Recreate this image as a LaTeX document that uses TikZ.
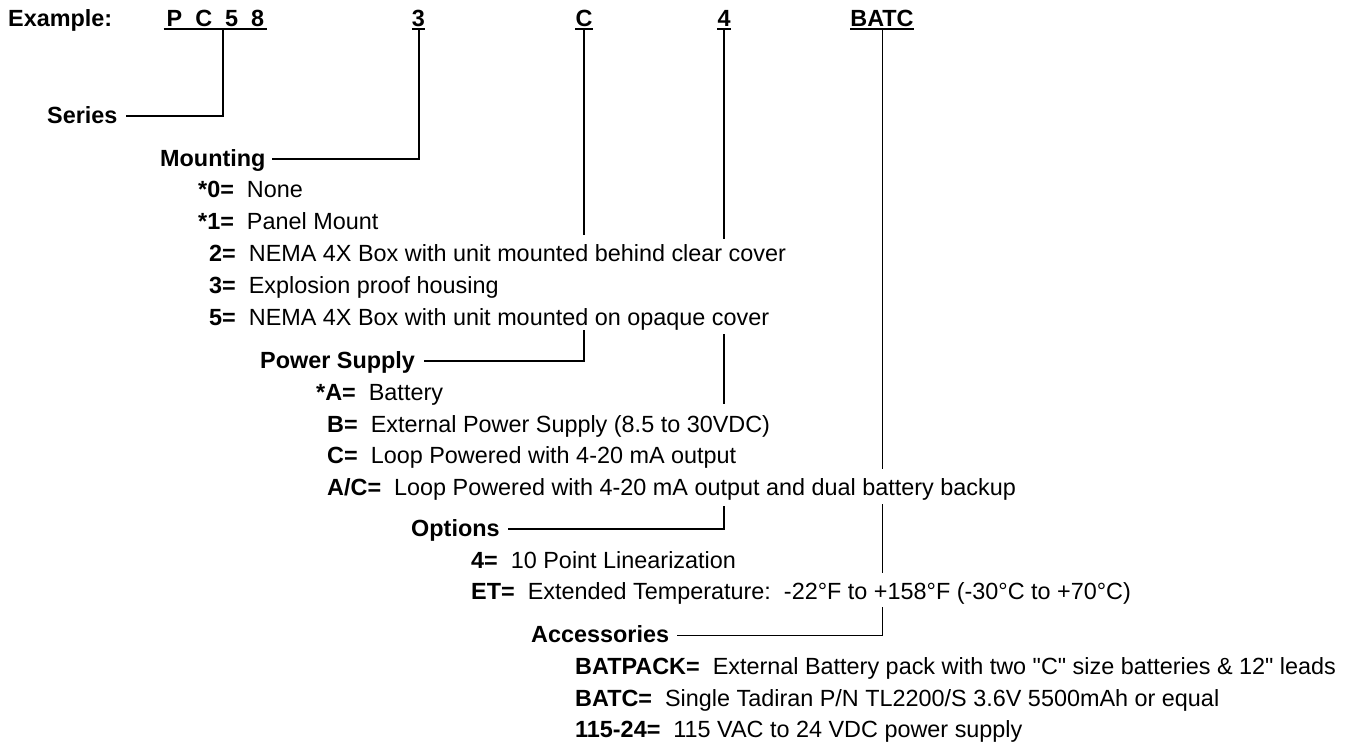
\documentclass[tikz,border=0pt]{standalone}
\usepackage{fontspec}
\setmainfont{Liberation Sans}[Ligatures=TeXOff]
\begin{document}
\tikzset{
  fs/.style={font=\fontsize{23.4}{28}\selectfont},
  txt/.style={fs, inner sep=0pt, anchor=base west},
  hdr/.style={inner sep=0pt, anchor=base west, font=\fontsize{23.4}{28}\selectfont\bfseries, text height=14pt, text depth=0pt},
  code/.style={inner sep=0pt, anchor=base, font=\fontsize{23.4}{28}\selectfont\bfseries},
  ln/.style={line width=2pt},
  lnmid/.style={line width=1.6pt},
  lnthin/.style={line width=1pt},
  ul/.style={line width=2pt},
}
\newcommand{\lab}[1]{\textbf{#1}\ \ }
\begin{tikzpicture}[x=1pt,y=-1pt]
\useasboundingbox (0,0) rectangle (1351,745);

% top row
\node[code, anchor=base west] (ex) at (8,26) {Example:};
\node[code, inner xsep=3pt] (pc) at (215.5,26) {P~~C~~5~~8};
\node[code] (d3) at (418.5,26) {3};
\node[code] (dC) at (584,26) {C};
\node[code] (d4) at (724,26) {4};
\node[code] (dB) at (882,26) {BATC};
\foreach \n in {pc,d3,dC,d4,dB}
  \draw[ul] ([yshift=-3.3pt]\n.base west) -- ([yshift=-3.3pt]\n.base east);

% headers
\node[hdr] (series) at (47,123) {Series};
\node[hdr] (mount) at (160,166) {Mounting};
\node[hdr] (ps) at (260,368) {Power Supply};
\node[hdr] (opt) at (411,536) {Options};
\node[hdr] (acc) at (531,642) {Accessories};

% mounting items
\node[txt] (m0) at (198,197) {\lab{*0=}None};
\node[txt] (m1) at (198,229) {\lab{*1=}Panel Mount};
\node[txt] (m2) at (209,261) {\lab{2=}NEMA 4X Box with unit mounted behind clear cover};
\node[txt] (m3) at (209,293) {\lab{3=}Explosion proof housing};
\node[txt] (m5) at (209,325) {\lab{5=}NEMA 4X Box with unit mounted on opaque cover};

% power supply items
\node[txt] (pA) at (316,400) {\lab{*A=}Battery};
\node[txt] (pB) at (327,432) {\lab{B=}External Power Supply (8.5 to 30VDC)};
\node[txt] (pC) at (327,463) {\lab{C=}Loop Powered with 4-20 mA output};
\node[txt] (pAC) at (327,495) {\lab{A/C=}Loop Powered with 4-20 mA output and dual battery backup};

% options items
\node[txt] (o4) at (471,568) {\lab{4=}10 Point Linearization};
\node[txt] (oET) at (471,599) {\lab{ET=}Extended Temperature:\ \ -22°F to +158°F (-30°C to +70°C)};

% accessories items
\node[txt] (a1) at (575,674) {\lab{BATPACK=}External Battery pack with two "C" size batteries \& 12" leads};
\node[txt] (a2) at (575,706) {\lab{BATC=}Single Tadiran P/N TL2200/S 3.6V 5500mAh or equal};
\node[txt] (a3) at (575,737) {\lab{115-24=}115 VAC to 24 VDC power supply};

% break points of the leader lines
\coordinate (t1) at (222.7,29.3);
\coordinate (c1) at (584,235);
\coordinate (c2) at (584,330);
\coordinate (f1) at (724,239);
\coordinate (f2) at (724,334);
\coordinate (f3) at (724,404);
\coordinate (f4) at (724,506);
\coordinate (b1) at (882,469);
\coordinate (b2) at (882,504);
\coordinate (b3) at (882,573);
\coordinate (b4) at (882,607);

% leaders
\draw[ln] (t1) |- ([xshift=8pt]series.east);
\draw[ln] ([yshift=-3.3pt]d3.base) |- ([xshift=6pt]mount.east);
\draw[ln] ([yshift=-3.3pt]dC.base) -- (c1);
\draw[ln] (c2) |- ([xshift=9pt]ps.east);
\draw[ln] ([yshift=-3.3pt]d4.base) -- (f1);
\draw[ln] (f2) -- (f3);
\draw[lnmid] (f4) |- ([xshift=8pt]opt.east);
\draw[lnthin] ([yshift=-3.3pt]dB.base) -- (b1);
\draw[lnthin] (b2) -- (b3);
\draw[lnthin] (b4) |- ([xshift=8pt]acc.east);
\end{tikzpicture}
\end{document}
